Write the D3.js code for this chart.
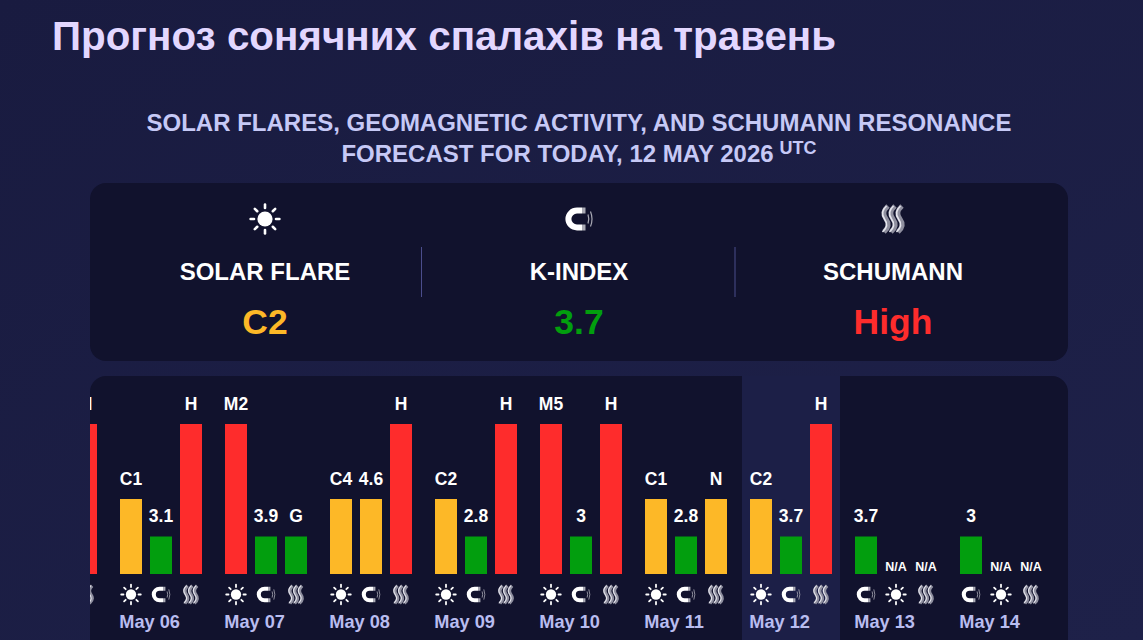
<!DOCTYPE html>
<html><head><meta charset="utf-8">
<script src="https://cdn.jsdelivr.net/npm/d3@7/dist/d3.min.js"></script>
<style>
html,body{margin:0;padding:0;width:1143px;height:640px;overflow:hidden;background:#1b1e45}
svg{display:block}
text{font-family:"Liberation Sans",Arial,sans-serif;font-weight:700}
</style></head><body><div id="chart"></div>
<script>
const titleText = "Прогноз сонячних спалахів на травень";
const subtitleLines = ["SOLAR FLARES, GEOMAGNETIC ACTIVITY, AND SCHUMANN RESONANCE", "FORECAST FOR TODAY, 12 MAY 2026"];
const summaryLabels = ["SOLAR FLARE", "K-INDEX", "SCHUMANN"];
const summaryValues = ["C2", "3.7", "High"];
const summaryLevels = [2, 1, 4];
const summaryIcons = ["flare", "k", "sch"];

const days = ["May 05","May 06","May 07","May 08","May 09","May 10","May 11","May 12","May 13","May 14"];
const flareValues = ["","C1","M2","C4","C2","M5","C1","C2","N/A","N/A"];
const flareLevels = [0,2,4,2,2,4,2,2,0,0];
const kValues = ["","3.1","3.9","4.6","2.8","3","2.8","3.7","3.7","3"];
const kLevels = [0,1,1,2,1,1,1,1,1,1];
const schumannValues = ["H","H","G","H","H","H","N","H","N/A","N/A"];
const schumannLevels = [4,4,1,4,4,4,2,4,0,0];
const slotOrders = [["flare","k","sch"],["flare","k","sch"],["flare","k","sch"],["flare","k","sch"],["flare","k","sch"],["flare","k","sch"],["flare","k","sch"],["flare","k","sch"],["k","flare","sch"],["k","flare","sch"]];
const todayLabel = "May 12";

const levelColor = d3.scaleOrdinal().domain([1,2,4]).range(["#029e0e","#fdb827","#fe2c2c"]);
const W = 1143, H = 640;
const svg = d3.select("#chart").append("svg").attr("width",W).attr("height",H);
const defs = svg.append("defs");
const bg = defs.append("linearGradient").attr("id","bg").attr("x1",0).attr("y1",0).attr("x2",1).attr("y2",1);
bg.append("stop").attr("offset",0).attr("stop-color","#191b40");
bg.append("stop").attr("offset",1).attr("stop-color","#1e2149");
defs.append("clipPath").attr("id","panelClip").append("rect").attr("x",90).attr("y",376).attr("width",978).attr("height",280).attr("rx",16);

// icon symbols, drawn around (0,0) for a 30px tall icon
const sun = defs.append("g").attr("id","ic-flare");
sun.append("circle").attr("r",7.6).attr("fill","#fff");
d3.range(8).forEach(i=>sun.append("line").attr("y1",-11).attr("y2",-14.4).attr("stroke","#fff").attr("stroke-width",2.6).attr("stroke-linecap","round").attr("transform",`rotate(${i*45})`));
const mag = defs.append("g").attr("id","ic-k");
mag.append("path").attr("d","M3,-8.4 H-2 A8.6,8.4 0 0 0 -2,8.4 H3").attr("fill","none").attr("stroke","#fff").attr("stroke-width",6);
mag.append("path").attr("d","M3,-8.4 H6.5 M3,8.4 H6.5").attr("stroke","#a9a9b4").attr("stroke-width",6);
mag.append("path").attr("d","M9,-4.5 Q10.6,0 9,4.5 M11.5,-7.5 Q14.5,0 11.5,7.5").attr("fill","none").attr("stroke","#a9a9b4").attr("stroke-width",1.2);
const wav = defs.append("g").attr("id","ic-sch");
[-7,0,7].forEach(dx=>{
  const s = "M2,-13 C-3.5,-8 -3,-4 0,0 C3,4 3.5,8 -2,13";
  wav.append("path").attr("transform",`translate(${dx},0)`).attr("d",s).attr("fill","none").attr("stroke","#8f8f9f").attr("stroke-width",5).attr("stroke-linecap","butt");
  wav.append("path").attr("transform",`translate(${dx-1.5},0)`).attr("d",s).attr("fill","none").attr("stroke","#e6e6ee").attr("stroke-width",1.6).attr("stroke-linecap","butt");
});

svg.append("rect").attr("width",W).attr("height",H).attr("fill","url(#bg)");

svg.append("text").attr("x",52).attr("y",50).attr("fill","#e3d7ff").attr("font-size",40.36).text(titleText);

const sub = svg.append("g").attr("fill","#c6c9f6").attr("font-size",24).attr("text-anchor","middle");
sub.append("text").attr("x",579).attr("y",130.5).text(subtitleLines[0]);
const sub2 = sub.append("text").attr("x",579).attr("y",161.5);
sub2.append("tspan").text(subtitleLines[1]);
sub2.append("tspan").attr("dx",6).attr("dy",-8).attr("font-size",18).text("UTC");

// summary panel
svg.append("rect").attr("x",90).attr("y",183).attr("width",978).attr("height",178).attr("rx",16).attr("fill","#11122d");
const sumX = d3.scalePoint().domain(summaryLabels).range([265,893]);
const sg = svg.selectAll("g.sum").data(summaryLabels).join("g").attr("class","sum").attr("transform",d=>`translate(${sumX(d)},0)`);
sg.append("use").attr("href",(d,i)=>`#ic-${summaryIcons[i]}`).attr("y",219);
sg.append("text").attr("y",280).attr("text-anchor","middle").attr("fill","#fff").attr("font-size",24).text(d=>d);
sg.append("text").attr("y",334).attr("text-anchor","middle").attr("font-size",35.5).attr("fill",(d,i)=>levelColor(summaryLevels[i])).text((d,i)=>summaryValues[i]);
[421.5,735].forEach(x=>svg.append("line").attr("x1",x).attr("x2",x).attr("y1",247).attr("y2",297).attr("stroke","#4b4d8c").attr("stroke-width",1));

// bar panel
svg.append("rect").attr("x",90).attr("y",376).attr("width",978).attr("height",280).attr("rx",16).attr("fill","#11122d");
const plot = svg.append("g").attr("clip-path","url(#panelClip)");
const x = d3.scaleBand().domain(days).range([15,15+105*days.length]);
const slot = d3.scaleBand().domain([0,1,2]).range([0,82]).paddingInner(8/30);
const y = d3.scaleLinear().domain([0,4]).range([574,424]);

const rows = days.flatMap((day,di)=>slotOrders[di].map((kind,si)=>{
  const value = kind==="flare"?flareValues[di]:kind==="k"?kValues[di]:schumannValues[di];
  const level = kind==="flare"?flareLevels[di]:kind==="k"?kLevels[di]:schumannLevels[di];
  return {day,kind,si,value,level};
}));
plot.append("rect").attr("x",x(todayLabel)-8).attr("y",376).attr("width",98).attr("height",280).attr("fill","#1c1f47");

const cx = d => x(d.day)+slot(d.si)+slot.bandwidth()/2;
const drawn = rows.filter(d=>d.value!=="");
plot.selectAll("rect.bar").data(drawn.filter(d=>d.level>0)).join("rect").attr("class","bar")
  .attr("x",d=>x(d.day)+slot(d.si)).attr("width",slot.bandwidth())
  .attr("y",d=>y(d.level)).attr("height",d=>y(0)-y(d.level)).attr("fill",d=>levelColor(d.level));
plot.selectAll("text.val").data(drawn).join("text").attr("class","val")
  .attr("x",cx).attr("y",d=>d.level>0?y(d.level)-14.5:571).attr("text-anchor","middle").attr("fill","#fff")
  .attr("font-size",d=>d.level>0?17.5:12.5).text(d=>d.value);
plot.selectAll("use.ic").data(rows).join("use").attr("class","ic")
  .attr("href",d=>`#ic-${d.kind}`).attr("transform",d=>`translate(${cx(d)},594.5) scale(0.68)`);
plot.selectAll("text.day").data(days).join("text").attr("class","day")
  .attr("x",d=>x(d)-0.7).attr("y",628).attr("fill","#b9bdf0").attr("font-size",18.2).text(d=>d);
</script></body></html>
